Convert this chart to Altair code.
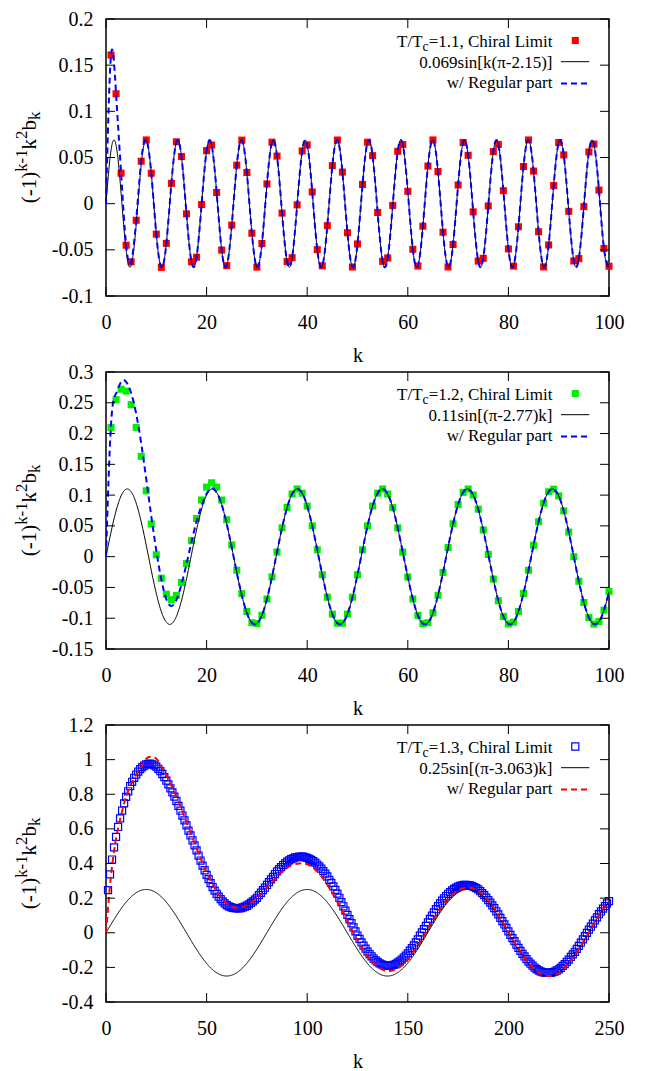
import altair as alt
import numpy as np
import pandas as pd

FONT = "Liberation Serif"
W, H = 503, 277
TICK = 9

# ---------------- panel 1 : T/Tc = 1.1 ----------------
p1_k = list(range(1, 101))
p1_vals = [
    0.161, 0.119, 0.033, -0.045, -0.063, -0.018, 0.046, 0.069, 0.033, -0.033,
    -0.069, -0.043, 0.022, 0.067, 0.051, -0.011, -0.063, -0.058, -0.001, 0.0574,
    0.0635, 0.0121, -0.0503, -0.0671, -0.0232, 0.0417, 0.0688, 0.0337, -0.0320, -0.0687,
    -0.0432, 0.0214, 0.0666, 0.0515, -0.0102, -0.0627, -0.0585, -0.0013, 0.0571, 0.0637,
    0.0127, -0.0498, -0.0673, -0.0238, 0.0412, 0.0689, 0.0342, -0.0315, -0.0686, -0.0437,
    0.0208, 0.0665, 0.0520, -0.0095, -0.0625, -0.0588, -0.0019, 0.0567, 0.0640, 0.0134,
    -0.0494, -0.0675, -0.0244, 0.0407, 0.0690, 0.0348, -0.0309, -0.0685, -0.0442, 0.0202,
    0.0663, 0.0524, -0.0089, -0.0622, -0.0592, -0.0025, 0.0564, 0.0642, 0.0140, -0.0490,
    -0.0676, -0.0250, 0.0402, 0.0690, 0.0353, -0.0304, -0.0685, -0.0447, 0.0196, 0.0662,
    0.0528, -0.0083, -0.0620, -0.0595, -0.0032, 0.0560, 0.0645, 0.0147, -0.0485, -0.0678,
]
p1_reg_k = [0] + p1_k
p1_reg_vals = [0.0] + p1_vals
p1_amp, p1_shift = 0.069, 2.15
p1_xticks = [0, 20, 40, 60, 80, 100]
p1_yticks = [-0.1, -0.05, 0, 0.05, 0.1, 0.15, 0.2]
p1_legend = ["=1.1, Chiral Limit", "0.069sin[k(\u03c0-2.15)]", "w/ Regular part"]

# ---------------- panel 2 : T/Tc = 1.2 ----------------
p2_k = list(range(1, 101))
p2_vals = [
    0.210, 0.255, 0.272, 0.269, 0.247, 0.210, 0.163, 0.107, 0.053, 0.003,
    -0.035, -0.061, -0.070, -0.063, -0.042, -0.011, 0.026, 0.062, 0.092, 0.113,
    0.120, 0.113, 0.092, 0.060, 0.019, -0.022, -0.060, -0.089,
    -0.1074, -0.1087, -0.0952, -0.0688, -0.0329, 0.0074, 0.0468, 0.0798, 0.1018, 0.1100,
    0.1031, 0.0822, 0.0501, 0.0111, -0.0294, -0.0659, -0.0934, -0.1081, -0.1081, -0.0933,
    -0.0658, -0.0293, 0.0112, 0.0501, 0.0823, 0.1032, 0.1100, 0.1018, 0.0797, 0.0467,
    0.0074, -0.0330, -0.0688, -0.0953, -0.1087, -0.1073, -0.0913, -0.0628, -0.0257, 0.0149,
    0.0534, 0.0847, 0.1044, 0.1099, 0.1003, 0.0771, 0.0433, 0.0037, -0.0365, -0.0717,
    -0.0971, -0.1092, -0.1065, -0.0892, -0.0597, -0.0221, 0.0186, 0.0567, 0.0870, 0.1055,
    0.1096, 0.0987, 0.0744, 0.0399, -0.0001, -0.0400, -0.0745, -0.0988, -0.1096, -0.1055,
    -0.0869, -0.0565,
]
p2_reg_head = [
    0.0, 0.215, 0.265, 0.284, 0.284, 0.266, 0.232, 0.184, 0.126, 0.066,
    0.010, -0.037, -0.069, -0.080, -0.070, -0.045, -0.012, 0.024, 0.057, 0.083,
    0.102, 0.111, 0.1043, 0.0847, 0.0534, 0.0148, -0.0258, -0.0629, -0.0913,
]
p2_reg_k = list(range(0, 101))
p2_reg_vals = p2_reg_head + p2_vals[28:]
p2_amp, p2_shift = 0.11, 2.77
p2_xticks = [0, 20, 40, 60, 80, 100]
p2_yticks = [-0.15, -0.1, -0.05, 0, 0.05, 0.1, 0.15, 0.2, 0.25, 0.3]
p2_legend = ["=1.2, Chiral Limit", "0.11sin[(\u03c0-2.77)k]", "w/ Regular part"]

# ---------------- panel 3 : T/Tc = 1.3 ----------------
p3_k = list(range(1, 251))
p3_vals = [
    0.246, 0.337, 0.423, 0.493, 0.554, 0.611, 0.661, 0.706, 0.747, 0.785,
    0.817, 0.847, 0.872, 0.895, 0.914, 0.931, 0.945, 0.957, 0.965, 0.972,
    0.975, 0.977, 0.973, 0.967, 0.959, 0.947, 0.933, 0.917, 0.899, 0.879,
    0.857, 0.834, 0.811, 0.786, 0.761, 0.733, 0.705, 0.677, 0.649, 0.620,
    0.590, 0.562, 0.533, 0.505, 0.476, 0.446, 0.417, 0.388, 0.361, 0.334,
    0.310, 0.287, 0.264, 0.243, 0.224, 0.208, 0.194, 0.181, 0.170, 0.160,
    0.153, 0.148, 0.144, 0.142, 0.141, 0.141, 0.143, 0.147, 0.151, 0.156,
    0.164, 0.172, 0.181, 0.191, 0.202, 0.217, 0.231, 0.246, 0.260, 0.276,
    0.292, 0.308, 0.323, 0.339, 0.354, 0.367, 0.379, 0.391, 0.401, 0.411,
    0.418, 0.425, 0.430, 0.435, 0.437, 0.439, 0.439, 0.439, 0.436, 0.432,
    0.427, 0.421, 0.414, 0.405, 0.394, 0.383, 0.370, 0.356, 0.341, 0.325,
    0.306, 0.288, 0.268, 0.248, 0.226, 0.202, 0.177, 0.153, 0.128, 0.103,
    0.078, 0.055, 0.031, 0.008, -0.016, -0.036, -0.056, -0.074, -0.092, -0.109,
    -0.123, -0.136, -0.149, -0.160, -0.169, -0.177, -0.183, -0.187, -0.190, -0.192,
    -0.191, -0.189, -0.185, -0.180, -0.173, -0.165, -0.155, -0.144, -0.132, -0.119,
    -0.104, -0.089, -0.073, -0.056, -0.038, -0.017, 0.002, 0.021, 0.040, 0.060,
    0.080, 0.099, 0.117, 0.136, 0.154, 0.170, 0.185, 0.199, 0.212, 0.225,
    0.235, 0.245, 0.253, 0.261, 0.266, 0.271, 0.274, 0.276, 0.276, 0.275,
    0.273, 0.269, 0.264, 0.258, 0.250, 0.240, 0.229, 0.217, 0.203, 0.189,
    0.174, 0.158, 0.142, 0.124, 0.106, 0.086, 0.067, 0.048, 0.028, 0.008,
    -0.012, -0.031, -0.049, -0.068, -0.087, -0.105, -0.122, -0.137, -0.152, -0.167,
    -0.179, -0.190, -0.201, -0.210, -0.217, -0.223, -0.227, -0.230, -0.232, -0.232,
    -0.231, -0.228, -0.224, -0.218, -0.211, -0.203, -0.192, -0.181, -0.168, -0.155,
    -0.140, -0.125, -0.110, -0.093, -0.076, -0.057, -0.038, -0.020, -0.001, 0.018,
    0.035, 0.053, 0.071, 0.089, 0.107, 0.123, 0.139, 0.154, 0.169, 0.183,
]
p3_reg_k = [0, 1, 2, 3, 4, 5, 6, 8, 10, 12, 15, 18, 20, 22, 25, 28, 30,
            35, 40, 45, 50, 55, 60, 65, 70, 75, 80, 85, 90, 95, 100, 105, 110,
            115, 120, 125, 130, 135, 140, 145, 150, 155, 160, 165, 170, 175, 180,
            185, 190, 195, 200, 205, 210, 215, 220, 225, 230, 235, 240, 245, 250]
p3_reg_vals = [0.0, 0.140, 0.274, 0.383, 0.472, 0.544, 0.604, 0.702, 0.787, 0.847,
               0.911, 0.967, 1.005, 1.017, 1.006, 0.952, 0.912,
               0.786, 0.640, 0.489, 0.348, 0.239, 0.170, 0.144, 0.158, 0.199, 0.260,
               0.324, 0.375, 0.399, 0.395, 0.353, 0.277, 0.178, 0.066, -0.044, -0.135,
               -0.196, -0.221, -0.206, -0.155, -0.076, 0.018, 0.113, 0.192, 0.244, 0.262,
               0.241, 0.186, 0.104, 0.006, -0.091, -0.174, -0.230, -0.250, -0.231, -0.177,
               -0.096, 0.002, 0.099, 0.179]
p3_amp, p3_shift = 0.25, 3.063
p3_xticks = [0, 50, 100, 150, 200, 250]
p3_yticks = [-0.4, -0.2, 0, 0.2, 0.4, 0.6, 0.8, 1, 1.2]
p3_legend = ["=1.3, Chiral Limit", "0.25sin[(\u03c0-3.063)k]", "w/ Regular part"]

legend_prefix = ["T/T", "c"]
ytitle_parts = ["(-1)", "k-1", "k", "2", "b", "k"]


def one(s):
    return pd.DataFrame({"s": [s]})


def text_mark(s, x, y, size, align="right", angle=0):
    return alt.Chart(one(s)).mark_text(
        align=align, baseline="alphabetic", font=FONT, fontSize=size,
        color="black", angle=angle
    ).encode(text="s:N", x=alt.value(x), y=alt.value(y))


def panel(k_pts, v_pts, k_reg, v_reg, amp, shift, xdom, xticks, ydom, yticks,
          pt_color, pt_filled, reg_color, legend, nfit):
    xs = alt.Scale(domain=xdom, nice=False, zero=False)
    ys = alt.Scale(domain=ydom, nice=False, zero=False)
    ax_x = alt.Axis(values=xticks, ticks=False, domain=False, grid=False,
                    labelFont=FONT, labelFontSize=20, labelColor="black",
                    labelPadding=16, labelFlush=False, labelOverlap=False,
                    labelExpr="'' + datum.value",
                    title="k", titleFont=FONT, titleFontSize=20,
                    titleFontWeight="normal", titleColor="black",
                    titleY=65, titleBaseline="alphabetic")
    ax_y = alt.Axis(values=yticks, ticks=False, domain=False, grid=False,
                    labelFont=FONT, labelFontSize=20, labelColor="black",
                    labelPadding=13, labelFlush=False, labelOverlap=False,
                    labelExpr="'' + datum.value", title=None)
    X = alt.X("k:Q", scale=xs, axis=ax_x)
    Y = alt.Y("v:Q", scale=ys, axis=ax_y)

    def point_mark(df):
        if pt_filled:
            return alt.Chart(df).mark_square(size=50, color=pt_color, filled=True, opacity=1)
        return alt.Chart(df).mark_square(size=50, color=pt_color, filled=False,
                                         strokeWidth=1.2, opacity=1)

    pts_df = pd.DataFrame({"k": k_pts, "v": v_pts})
    pts = point_mark(pts_df).encode(x=X, y=Y)

    fk = np.linspace(xdom[0], xdom[1], nfit)
    fit_df = pd.DataFrame({"k": fk, "v": amp * np.sin(fk * (np.pi - shift))})
    fit = alt.Chart(fit_df).mark_line(color="black", strokeWidth=1).encode(x=X, y=Y)

    reg_df = pd.DataFrame({"k": k_reg, "v": v_reg})
    reg = alt.Chart(reg_df).mark_line(color=reg_color, strokeWidth=2, strokeDash=[6, 4],
                                      interpolate="natural").encode(x=X, y=Y)

    xt = pd.DataFrame({"k": xticks})
    yt = pd.DataFrame({"v": yticks})
    rule = dict(color="black", strokeWidth=1)
    tb = alt.Chart(xt).mark_rule(**rule).encode(
        x=X, y=alt.value(H), y2=alt.value(H - TICK))
    tt = alt.Chart(xt).mark_rule(**rule).encode(
        x=X, y=alt.value(0), y2=alt.value(TICK))
    tl = alt.Chart(yt).mark_rule(**rule).encode(
        y=Y, x=alt.value(0), x2=alt.value(TICK))
    tr = alt.Chart(yt).mark_rule(**rule).encode(
        y=Y, x=alt.value(W - TICK), x2=alt.value(W))

    # legend (gnuplot style: text right-aligned, sample on the right)
    LF = 17
    tx = 446.5
    w_main = 7.287 * LF
    w_c = 0.444 * LF * 0.8
    leg = [
        text_mark(legend_prefix[0], tx - w_main - w_c, 28, LF),
        text_mark(legend_prefix[1], tx - w_main, 32, LF * 0.8),
        text_mark(legend[0], tx, 28, LF),
        text_mark(legend[1], tx, 48.7, LF),
        text_mark(legend[2], tx, 69, LF),
    ]
    leg.append(point_mark(one("s")).encode(x=alt.value(469.3), y=alt.value(21.5)))
    leg.append(alt.Chart(one("s")).mark_rule(color="black", strokeWidth=1).encode(
        x=alt.value(455), x2=alt.value(483.3), y=alt.value(42.7)))
    leg.append(alt.Chart(one("s")).mark_rule(color=reg_color, strokeWidth=2,
                                            strokeDash=[6, 4]).encode(
        x=alt.value(455), x2=alt.value(483.3), y=alt.value(64.5)))

    # y-axis title with super/subscripts
    MF, SF = 21, 16.8
    widths = [1.5 * MF, 1.333 * SF, 0.5 * MF, 0.5 * SF, 0.5 * MF, 0.5 * SF]
    sizes = [MF, SF, MF, SF, MF, SF]
    shifts = [0, -9, 0, -9, 0, 4]
    total = sum(widths)
    y0 = H / 2 + total / 2
    bx = -70
    yt_marks = []
    off = 0
    for part, w, sz, dx in zip(ytitle_parts, widths, sizes, shifts):
        yt_marks.append(text_mark(part, bx + dx, y0 - off, sz, align="left", angle=270))
        off += w

    return alt.layer(pts, fit, reg, tb, tt, tl, tr, *leg, *yt_marks).properties(
        width=W, height=H)


c1 = panel(p1_k, p1_vals, p1_reg_k, p1_reg_vals, p1_amp, p1_shift, [0, 100], p1_xticks,
           [-0.1, 0.2], p1_yticks, "#ff0000", True, "#0000ff", p1_legend, 2001)
c2 = panel(p2_k, p2_vals, p2_reg_k, p2_reg_vals, p2_amp, p2_shift, [0, 100], p2_xticks,
           [-0.15, 0.3], p2_yticks, "#00ee00", True, "#0000ff", p2_legend, 1001)
c3 = panel(p3_k, p3_vals, p3_reg_k, p3_reg_vals, p3_amp, p3_shift, [0, 250], p3_xticks,
           [-0.4, 1.2], p3_yticks, "#0000ff", False, "#ff0000", p3_legend, 1001)

chart = alt.vconcat(c1, c2, c3, spacing=76, bounds="flush").properties(
    padding={"left": 5, "top": 0, "right": 5, "bottom": 0}
).configure_view(stroke="black", strokeWidth=1.5)

chart.save("out.html", embed_options={"renderer": "svg", "actions": False})
